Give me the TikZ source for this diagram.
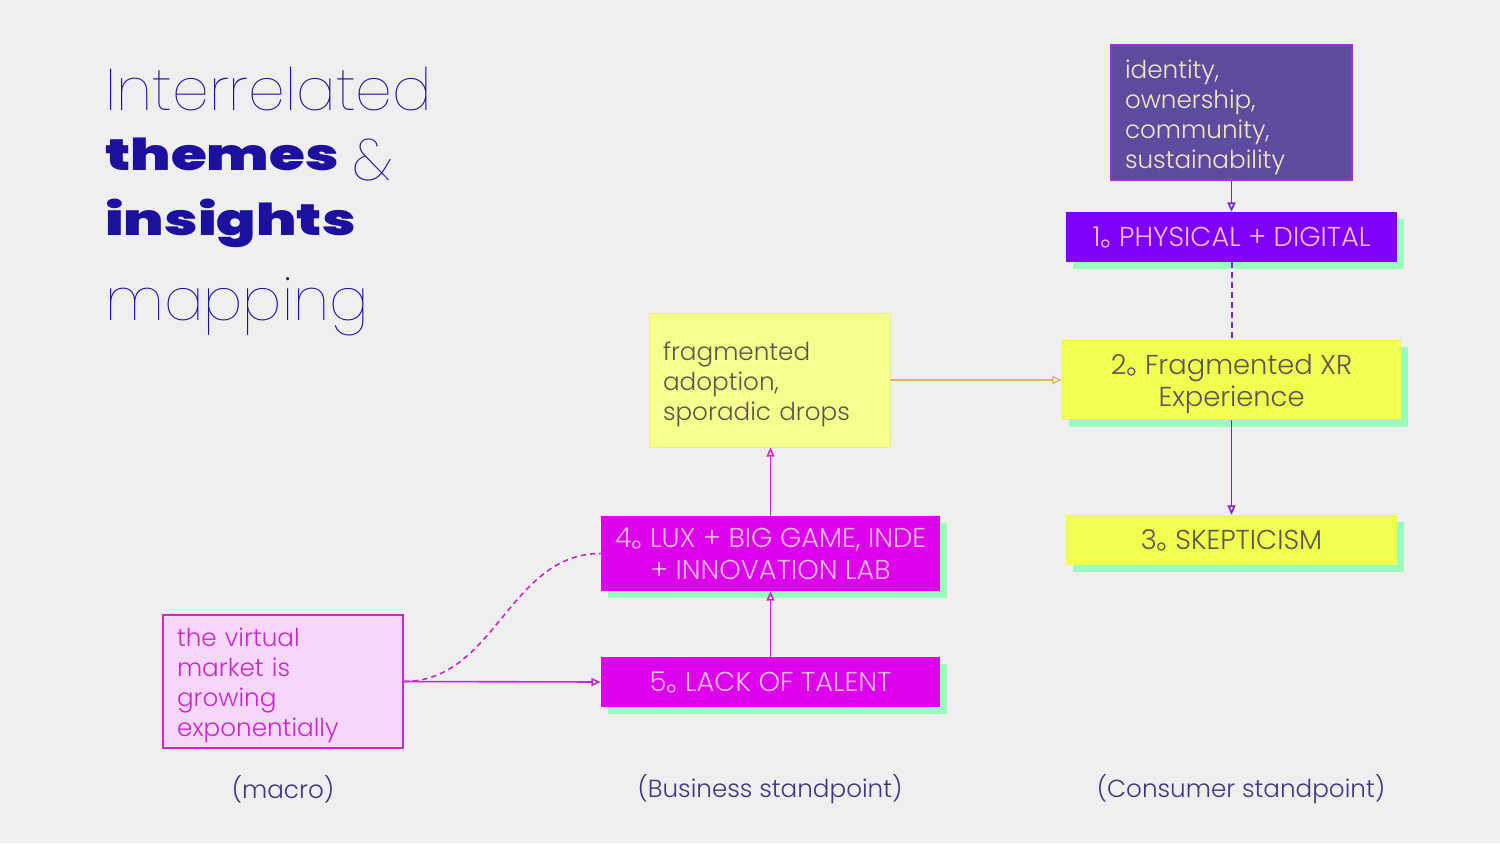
\documentclass[tikz,border=0pt]{standalone}
\usepackage{fontspec}
\setmainfont{Poppins Light}
\newfontfamily\thinfont{Poppins Thin}
\newfontfamily\blackfont{Poppins Black}[FakeStretch=1.32]
\newfontfamily\cjk{Noto Sans CJK SC}
\usetikzlibrary{arrows.meta,shadows}
\definecolor{bg}{HTML}{EFEFEF}
\definecolor{titleblue}{HTML}{1C109E}
\definecolor{labelblue}{HTML}{3E3880}
\definecolor{mint}{HTML}{9AFDBF}
\definecolor{slate}{HTML}{5D4BA0}
\definecolor{slateline}{HTML}{9B30E8}
\definecolor{cream}{HTML}{F2E8C0}
\definecolor{violet}{HTML}{7D00FA}
\definecolor{magenta}{HTML}{DC00EC}
\definecolor{pinktext}{HTML}{F5BBF2}
\definecolor{lemon}{HTML}{F1FF4F}
\definecolor{palelemon}{HTML}{F7FF8C}
\definecolor{paleline}{HTML}{EDF07A}
\definecolor{greytext}{HTML}{5A5652}
\definecolor{blush}{HTML}{F7D7F9}
\definecolor{orchid}{HTML}{C828CE}
\definecolor{purpleline}{HTML}{7F1FE0}
\definecolor{tan}{HTML}{DDB460}
\newcommand{\ringstop}{{\cjk 。}\kern-0.32em}
\tikzset{
  tagbox/.style={rectangle, inner sep=0pt, align=center, text depth=0pt,
    font=\fontsize{20.5}{24}\selectfont,
    general shadow={fill=mint, shadow xshift=5.5pt, shadow yshift=-5pt}},
  notebox/.style={rectangle, align=left, inner xsep=10.5pt, inner ysep=0pt,
    text width=159.75pt, minimum width=180.75pt, text height=20.5pt,
    font=\fontsize{18.5}{22.5}\selectfont},
  link/.style={line width=1.2pt, -{Triangle[open,length=7pt,width=6pt]}},
  titletext/.style={anchor=base west, inner sep=0pt, text=titleblue},
  standpoint/.style={inner sep=0pt, text=labelblue, font=\fontsize{18.5}{22}\selectfont}
}
\begin{document}
\begin{tikzpicture}[x=0.75pt,y=-0.75pt]
  % page
  \fill [bg] (0,0) rectangle (1500,843);
  \useasboundingbox (0,0) rectangle (1500,843);
  % title
  \node [titletext, font=\thinfont\fontsize{44}{44}\selectfont] (title1) at (105,110) {Interrelated};
  \node [titletext, font=\blackfont\fontsize{33}{33}\selectfont] (title2) at (105,170) {themes};
  \node [titletext, font=\thinfont\fontsize{44}{44}\selectfont] (amp) at (352,180) {\&};
  \node [titletext, font=\blackfont\fontsize{33}{33}\selectfont] (title3) at (105,235) {insights};
  \node [titletext, font=\thinfont\fontsize{44}{44}\selectfont] (title4) at (105,320) {mapping};
  % consumer column
  \node [notebox, fill=slate, draw=slateline, line width=1.1pt, text=cream,
    minimum height=101.25pt] (values) at (1231.5,112.5)
    {identity,\\ownership,\\community,\\sustainability};
  \node [tagbox, fill=violet, text=pinktext, minimum width=248.25pt, minimum height=37.5pt]
    (physical) at (1231.5,237) {1\ringstop PHYSICAL + DIGITAL};
  \node [tagbox, fill=lemon, text=greytext, minimum width=254.25pt, minimum height=60pt]
    (xr) at (1231.5,380) {2\ringstop Fragmented XR\\Experience};
  \node [tagbox, fill=lemon, text=greytext, minimum width=248.25pt, minimum height=37.5pt]
    (skeptic) at (1231.5,540) {3\ringstop SKEPTICISM};
  % business column
  \node [notebox, fill=palelemon, draw=paleline, line width=0.6pt, text=greytext,
    minimum height=100.5pt] (adoption) at (769.5,380)
    {fragmented\\adoption,\\sporadic drops};
  \node [tagbox, fill=magenta, text=pinktext, minimum width=254.25pt, minimum height=56.25pt]
    (lux) at (770.5,553.5) {4\ringstop LUX + BIG GAME, INDE\\+ INNOVATION LAB};
  \node [tagbox, fill=magenta, text=pinktext, minimum width=254.25pt, minimum height=37.5pt]
    (talent) at (770.5,682) {5\ringstop LACK OF TALENT};
  % macro column
  \node [notebox, fill=blush, draw=orchid, line width=1.1pt, text=orchid,
    text width=159pt, minimum width=180pt, minimum height=99.75pt] (market) at (283,681.5)
    {the virtual\\market is\\growing\\exponentially};
  % connectors
  \draw [link, purpleline] (values.south) -- (physical.north);
  \draw [purpleline, line width=1.5pt, dash pattern=on 4.5pt off 3pt] (physical.south) -- (xr.north);
  \draw [link, purpleline] (xr.south) -- (skeptic.north);
  \draw [link, tan, line width=0.9pt] (adoption.east) -- (xr.west);
  \draw [link, orchid] (lux.north) -- (lux.north |- adoption.south);
  \draw [link, orchid] (talent.north) -- (lux.south);
  \draw [link, orchid] (market.east) -- (talent.west);
  \draw [orchid, line width=1.2pt, dash pattern=on 4pt off 3pt] (market.east) to[out=0,in=180] (lux.west);
  % column labels
  \node [standpoint] (macro) at (283,789) {(macro)};
  \node [standpoint] (business) at (770,789) {(Business standpoint)};
  \node [standpoint] (consumer) at (1241,789) {(Consumer standpoint)};
\end{tikzpicture}
\end{document}
